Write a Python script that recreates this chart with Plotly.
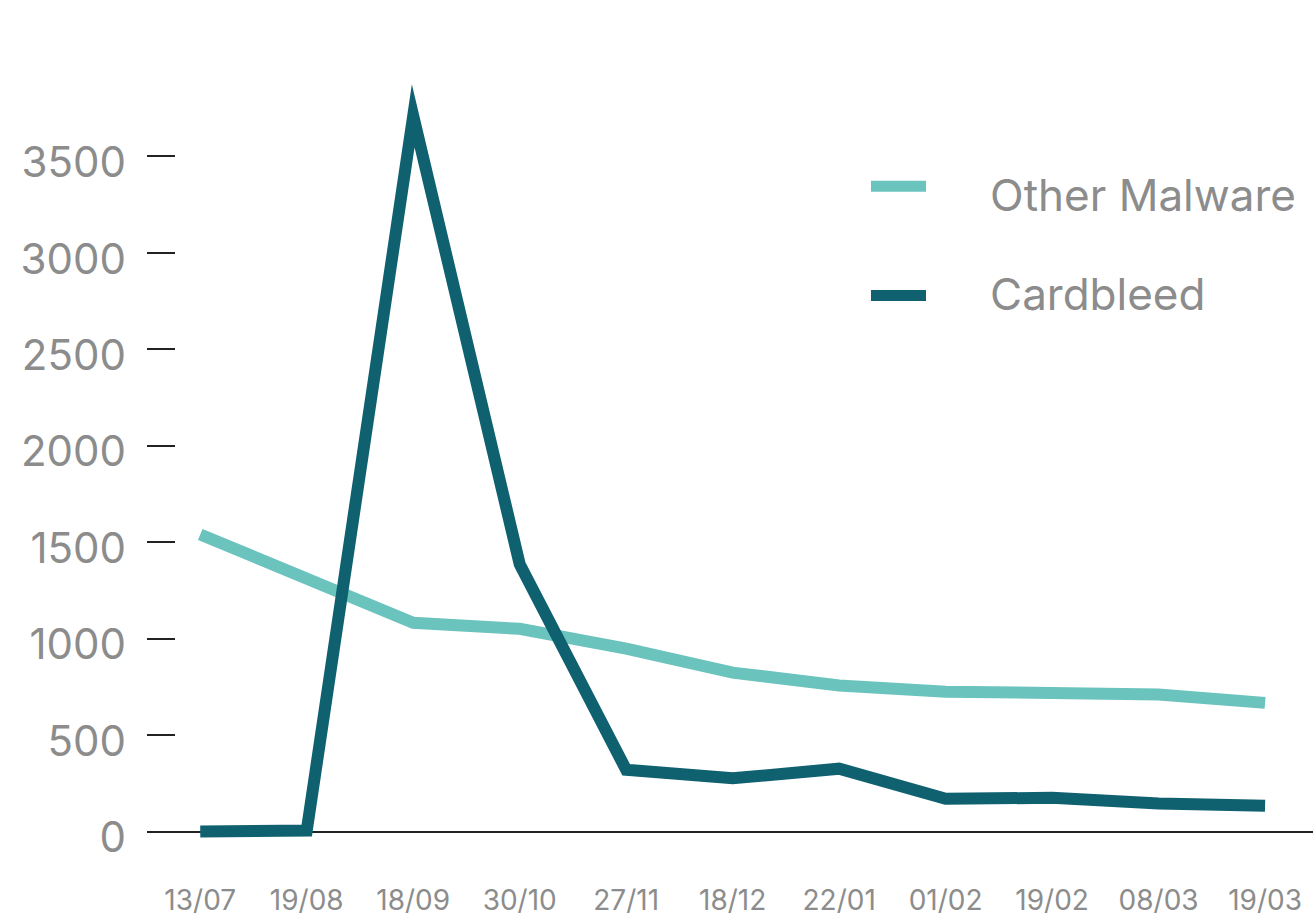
import plotly.graph_objects as go

# Weekly detections by reporting date
dates = ["13/07", "19/08", "18/09", "30/10", "27/11", "18/12",
         "22/01", "01/02", "19/02", "08/03", "19/03"]
other_malware = [1540, 1310, 1082, 1051, 948, 824, 757, 725, 712, 711, 667]
cardbleed = [0, 5, 3710, 1386, 320, 276, 326, 170, 175, 146, 134]

series_names = ["Other Malware", "Cardbleed"]
series_colors = ["#6bc3bd", "#0f6170"]
y_ticks = [0, 500, 1000, 1500, 2000, 2500, 3000, 3500]

label_grey = "#8c8c8c"
axis_dark = "#222222"
font_family = "Inter, 'Noto Sans', sans-serif"

fig = go.Figure()
for name, values, color in zip(series_names, [other_malware, cardbleed], series_colors):
    fig.add_trace(go.Scatter(
        x=dates, y=values, name=name, mode="lines",
        line=dict(color=color, width=12),
        showlegend=False,
    ))

# Legend drawn as short line samples with text beside them
legend_line_y = [0.8197, 0.6841]
legend_text_y = [0.809, 0.686]
for name, color, ly, ty in zip(series_names, series_colors, legend_line_y, legend_text_y):
    fig.add_shape(type="line", xref="paper", yref="paper",
                  x0=0.6209, x1=0.6681, y0=ly, y1=ly,
                  line=dict(color=color, width=11))
    fig.add_annotation(text=name, xref="paper", yref="paper",
                       x=0.7213, y=ty, xanchor="left", yanchor="middle",
                       showarrow=False,
                       font=dict(family=font_family, size=44, color=label_grey))

fig.update_layout(
    width=1313, height=917,
    margin=dict(l=147, r=0, t=41, b=65),
    paper_bgcolor="white", plot_bgcolor="white",
    font=dict(family=font_family, color=label_grey),
    xaxis=dict(
        type="category", range=[-0.5, 10.45],
        showgrid=False, showline=False, zeroline=False,
        ticks="", tickfont=dict(size=28, color=label_grey),
        ticklabelstandoff=34,
    ),
    yaxis=dict(
        range=[-80, 4098],
        tickvals=y_ticks, ticktext=[str(v) for v in y_ticks],
        showgrid=False, showline=False,
        zeroline=True, zerolinecolor=axis_dark, zerolinewidth=2,
        ticks="inside", ticklen=28, tickwidth=2, tickcolor=axis_dark,
        tickfont=dict(size=42, color=label_grey),
        ticklabelstandoff=20, ticklabelshift=6,
    ),
)

# Sharp joins on the line paths
post = ("document.querySelectorAll('path.js-line').forEach(function(p){"
        "p.style.strokeMiterlimit='10';p.style.strokeLinejoin='miter';});")
fig.write_html("out.html", post_script=post)
